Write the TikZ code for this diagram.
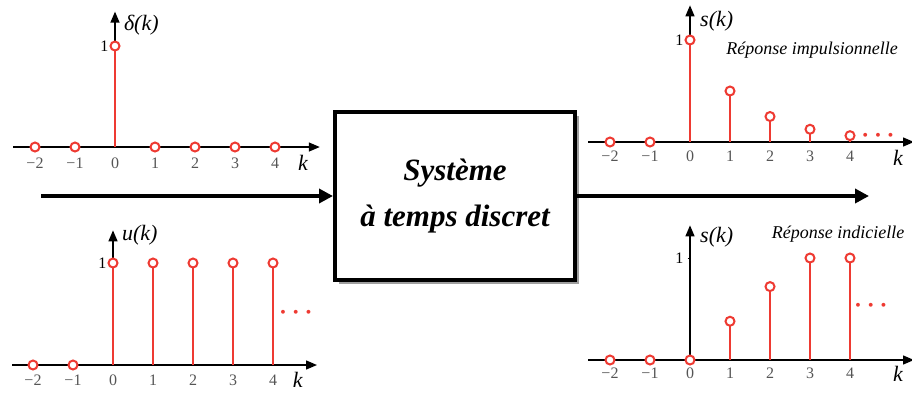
\documentclass[tikz,border=0pt]{standalone}
\usepackage{fontspec}
\setmainfont{Liberation Serif}
\definecolor{StemRed}{RGB}{238,58,50}
\definecolor{TickGray}{RGB}{85,85,85}
\usepackage{tikz}
\usetikzlibrary{
    arrows.meta,
    shadows,
}
\tikzset{
    axis/.style={line width=1.4pt, -{Triangle[length=11pt,width=9pt]}},
    flow/.style={line width=4pt, -{Triangle[length=14pt,width=14pt]}},
    stem/.style={StemRed, line width=2.8pt},
    sample/.style={circle, draw=StemRed, fill=white, line width=2pt, inner sep=0pt, minimum size=9pt},
    ticklbl/.style={font=\fontsize{16}{16}\selectfont, text=TickGray, inner sep=0pt},
    varlbl/.style={font=\fontsize{22}{22}\selectfont\itshape, inner sep=0pt},
    notelbl/.style={font=\fontsize{18}{18}\selectfont\itshape, inner sep=0pt},
    more/.style={font=\fontsize{24}{24}\selectfont\boldmath, text=StemRed, inner sep=0pt},
    sysbox/.style={draw, line width=4pt, fill=white, minimum width=240pt, minimum height=168pt,
        drop shadow={shadow xshift=4pt, shadow yshift=-4pt, fill=gray!75, opacity=1}},
}

\begin{document}
\begin{tikzpicture}[x=1pt, y=-1pt]
    \useasboundingbox (0,0) rectangle (912,392);

    % system block and its two connectors
    \node[sysbox, align=center, font=\fontsize{31}{46}\selectfont\bfseries\itshape] (sys) at (455,196) {Système\\à temps discret};
    \coordinate (src) at (41,196);
    \coordinate (dst) at (869,196);
    \draw[flow] (src) -- (sys.west);
    \draw[flow] (sys.east) -- (dst);

    % impulse delta(k)
    \begin{scope}[shift={(115,147)}, x=40pt, y=101pt]
        \draw[axis] (-2.55,0) -- (5.12,0);
        \draw[axis] (0,0) -- (0,1.34);
        \foreach \k/\v in {-2/0,-1/0,0/1,1/0,2/0,3/0,4/0} {
            \draw[stem] (\k,0) -- (\k,\v);
            \node[sample] (d\k) at (\k,\v) {};
            \node[ticklbl] (dt\k) at (\k,-0.16) {\ifnum\k<0 −\number-\k\else\k\fi};
        }
        \node[ticklbl, text=black, anchor=east] (done) at (-0.16,1) {1};
        \node[varlbl, anchor=west] (dname) at (0.22,1.21) {δ(k)};
        \node[varlbl] (dk) at (4.7,-0.16) {k};
    \end{scope}

    % step u(k)
    \begin{scope}[shift={(113,365)}, x=40pt, y=102pt]
        \draw[axis] (-2.52,0) -- (5.1,0);
        \draw[axis] (0,0) -- (0,1.32);
        \foreach \k/\v in {-2/0,-1/0,0/1,1/1,2/1,3/1,4/1} {
            \draw[stem] (\k,0) -- (\k,\v);
            \node[sample] (u\k) at (\k,\v) {};
            \node[ticklbl] (ut\k) at (\k,-0.15) {\ifnum\k<0 −\number-\k\else\k\fi};
        }
        \node[ticklbl, text=black, anchor=east] (uone) at (-0.16,1) {1};
        \node[varlbl, anchor=west] (uname) at (0.22,1.27) {u(k)};
        \node[varlbl] (uk) at (4.62,-0.15) {k};
        \node[more] (umore) at (4.57,0.51) {$\cdots$};
    \end{scope}

    % impulse response
    \begin{scope}[shift={(690,142)}, x=40pt, y=102pt]
        \draw[axis] (-2.55,0) -- (5.6,0);
        \draw[axis] (0,0) -- (0,1.34);
        \foreach \k/\v in {-2/0,-1/0,0/1,1/0.5,2/0.25,3/0.125,4/0.0625} {
            \draw[stem] (\k,0) -- (\k,\v);
            \node[sample] (h\k) at (\k,\v) {};
            \node[ticklbl] (ht\k) at (\k,-0.14) {\ifnum\k<0 −\number-\k\else\k\fi};
        }
        \node[ticklbl, text=black, anchor=east] (hone) at (-0.16,1) {1};
        \node[varlbl, anchor=west] (hname) at (0.25,1.18) {s(k)};
        \node[notelbl] (hnote) at (3.05,0.9) {Réponse impulsionnelle};
        \node[varlbl] (hk) at (5.2,-0.16) {k};
        \node[more] (hmore) at (4.7,0.06) {$\cdots$};
    \end{scope}

    % step response
    \begin{scope}[shift={(690,360)}, x=40pt, y=102pt]
        \draw[axis] (-2.55,0) -- (5.6,0);
        \draw[axis] (0,0) -- (0,1.32);
        \draw[line width=0.6pt] (-0.06,1) -- (0,1);
        \foreach \k/\v in {-2/0,-1/0,0/0,1/0.38,2/0.72,3/1,4/1} {
            \draw[stem] (\k,0) -- (\k,\v);
            \node[sample] (g\k) at (\k,\v) {};
            \node[ticklbl] (gt\k) at (\k,-0.13) {\ifnum\k<0 −\number-\k\else\k\fi};
        }
        \node[ticklbl, text=black, anchor=east] (gone) at (-0.16,1) {1};
        \node[varlbl, anchor=west] (gname) at (0.25,1.2) {s(k)};
        \node[notelbl] (gnote) at (3.7,1.23) {Réponse indicielle};
        \node[varlbl] (gk) at (5.2,-0.14) {k};
        \node[more] (gmore) at (4.52,0.53) {$\cdots$};
    \end{scope}
\end{tikzpicture}
\end{document}
